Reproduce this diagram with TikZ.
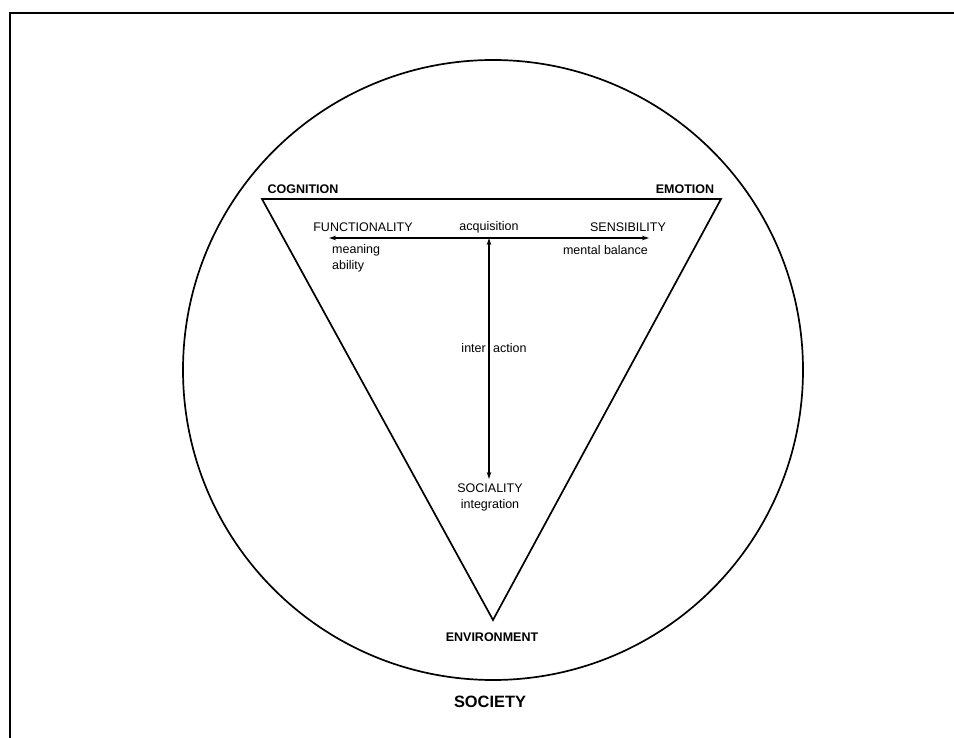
\documentclass[tikz,border=0pt]{standalone}
\usepackage{fontspec}
\setmainfont{Liberation Sans}
\usetikzlibrary{arrows.meta}
\begin{document}
\begin{tikzpicture}[x=1pt,y=-1pt,
  lbl/.style={inner sep=0pt,font=\fontsize{12.5}{14}\selectfont},
  blbl/.style={inner sep=0pt,font=\fontsize{12.5}{14}\selectfont\bfseries},
  big/.style={inner sep=0pt,font=\fontsize{16.4}{18}\selectfont\bfseries},
  outl/.style={line width=1.7pt,line join=miter},
  arr/.style={line width=1.3pt,{Stealth[length=7pt,width=4.5pt]}-{Stealth[length=7pt,width=4.5pt]}}]
\useasboundingbox (0,0) rectangle (954,738);
% frame (left and top edges)
\draw[line width=2pt] (10,738) -- (10,13) -- (954,13);
% society circle
\coordinate (c) at (493,370);
\draw[outl] (c) circle (310pt);
% triangle
\coordinate (cog) at (262,199);
\coordinate (emo) at (721,199);
\coordinate (env) at (493,620);
\draw[outl] (cog) -- (emo) -- (env) -- cycle;
% arrows
\coordinate (hl) at (329,238);
\coordinate (hr) at (649,238);
\coordinate (vt) at (489,238);
\coordinate (vb) at (489,479);
\draw[arr] (hl) -- (hr);
\draw[arr] (vt) -- (vb);
% labels
\node[blbl] (tcog) at (303,189) {COGNITION};
\node[blbl] (temo) at (685,189) {EMOTION};
\node[lbl] (tfun) at (363,227) {FUNCTIONALITY};
\node[lbl] (tacq) at (489,227) {acquisition};
\node[lbl] (tsen) at (628,227) {SENSIBILITY};
\node[lbl,anchor=west] (tmea) at (332,250) {meaning};
\node[lbl,anchor=west] (tabi) at (332,266) {ability};
\node[lbl,anchor=east] (tmen) at (648,250) {mental balance};
\node[lbl,anchor=east] (tint) at (486,348) {inter};
\node[lbl,anchor=west] (tact) at (493,348) {action};
\node[lbl] (tsoc) at (490,488) {SOCIALITY};
\node[lbl] (tintg) at (490,505) {integration};
\node[blbl] (tenv) at (492,637) {ENVIRONMENT};
\node[big] (tsty) at (490,702) {SOCIETY};
\end{tikzpicture}
\end{document}
